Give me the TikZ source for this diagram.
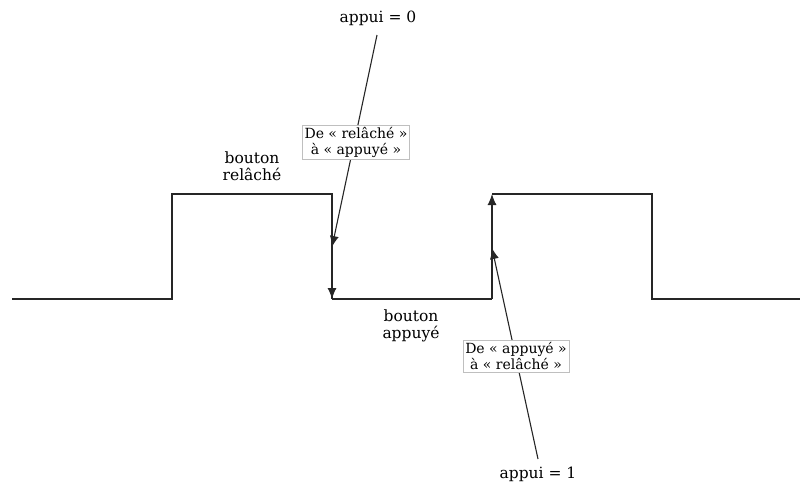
\documentclass[tikz,border=0pt]{standalone}
\usepackage{fontspec}
\setmainfont{DejaVu Serif}
\usetikzlibrary{arrows.meta}
\begin{document}
\begin{tikzpicture}[x=1pt,y=-1pt,
  sig/.style={draw=black!85, line width=1.1pt},
  arr/.style={draw=black!85, line width=1.1pt, -{Latex[length=11pt,width=9pt]}},
  lbl/.style={font=\fontsize{15.5}{17}\selectfont, align=center, inner sep=1pt},
  box/.style={draw=black!25, fill=white, font=\fontsize{14}{16}\selectfont, align=center, inner sep=2pt}]
\useasboundingbox (0,0) rectangle (802,485);
\coordinate (s0) at (12,299);
\coordinate (s1) at (172,299);
\coordinate (s2) at (172,194);
\coordinate (s3) at (332,194);
\coordinate (s4) at (332,299);
\coordinate (s5) at (492,299);
\coordinate (s6) at (492,194);
\coordinate (s7) at (652,194);
\coordinate (s8) at (652,299);
\coordinate (s9) at (800,299);
\coordinate (t1) at (332,247);
\coordinate (t2) at (492,248);
\draw[sig] (s0) -- (s1) -- (s2) -- (s3) -- (s4);
\draw[arr] (s3) -- (s4);
\draw[sig] (s4) -- (s5);
\draw[arr] (s5) -- (s6);
\draw[sig] (s6) -- (s7) -- (s8) -- (s9);
\node[lbl] (a0) at (378,18) {appui = 0};
\node[lbl] (a1) at (538,474) {appui = 1};
\node[lbl] (br) at (252,166) {bouton\\relâché};
\node[lbl] (ba) at (411,326) {bouton\\appuyé};
\coordinate (a0s) at (377,35);
\coordinate (a1n) at (538,459);
\draw[arr] (a0s) -- (t1);
\draw[arr] (a1n) -- (t2);
\node[box] (b1) at (356,142) {De « relâché »\\à « appuyé »};
\node[box] (b2) at (516,356) {De « appuyé »\\à « relâché »};
\end{tikzpicture}
\end{document}
